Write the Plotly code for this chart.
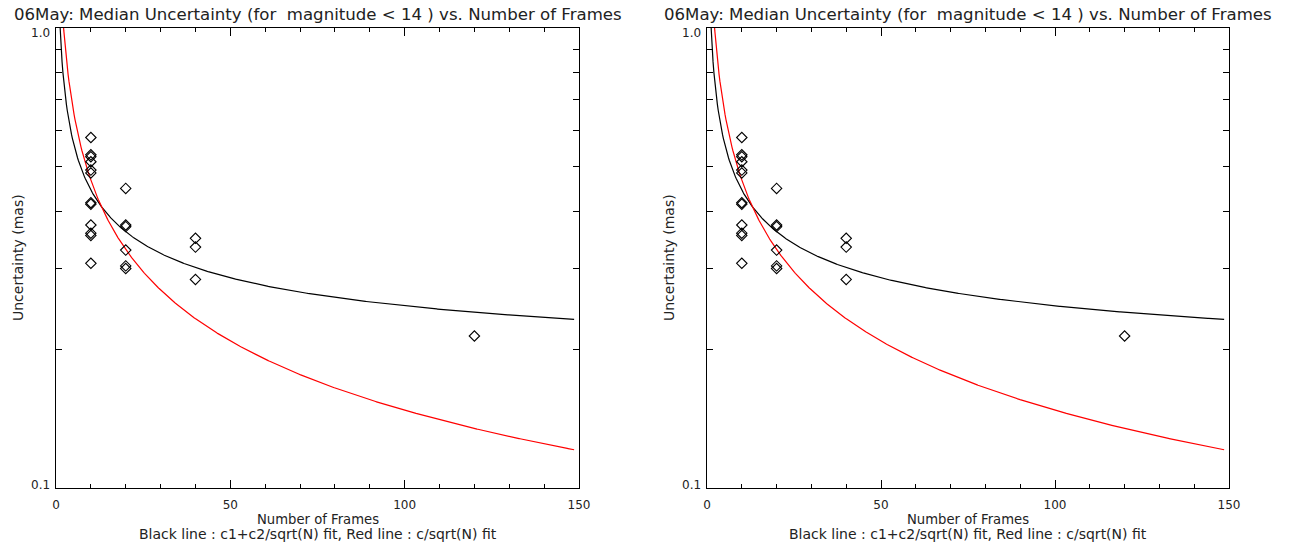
import numpy as np
import plotly.graph_objects as go

# Median uncertainty per field versus number of frames
frames = [10, 10, 10, 10, 10, 10, 10, 10, 10, 10, 10, 10,
          20, 20, 20, 20, 20, 20,
          40, 40, 40,
          120]
uncertainty = [0.578, 0.530, 0.525, 0.512, 0.491, 0.484, 0.417, 0.414, 0.373, 0.358, 0.354, 0.308,
               0.448, 0.373, 0.370, 0.329, 0.304, 0.300,
               0.349, 0.334, 0.284,
               0.214]

# Fit coefficients
c1, c2 = 0.1585, 0.904      # black: c1 + c2/sqrt(N)
c_red = 1.476               # red:   c/sqrt(N)
n_fit = np.linspace(1.0, 148.6, 600)
black_fit = c1 + c2 / np.sqrt(n_fit)
red_fit = c_red / np.sqrt(n_fit)

title_text = "06May: Median Uncertainty (for  magnitude < 14 ) vs. Number of Frames"
xtitle = "Number of Frames"
xsub = "Black line : c1+c2/sqrt(N) fit, Red line : c/sqrt(N) fit"
ytitle = "Uncertainty (mas)"
x_tickvals = [0, 50, 100, 150]
y_tickvals = [0.1, 1.0]
y_ticktext = ["0.1", "1.0"]
y_label_shift = [3, -5]     # IDL-style label placement relative to the tick
y_minor = [0.2, 0.3, 0.4, 0.5, 0.6, 0.7, 0.8, 0.9]

W, H = 1292, 547
FONT = "DejaVu Sans"
TXT = "#222222"
panels = [(56, 579), (707, 1229)]
top_px, bot_px = 28, 488

fig = go.Figure()
annotations = []
for i, (x0, x1) in enumerate(panels):
    xa = "x" if i == 0 else "x2"
    ya = "y" if i == 0 else "y2"
    fig.add_trace(go.Scatter(x=n_fit, y=black_fit, mode="lines",
                             line=dict(color="black", width=1.2),
                             xaxis=xa, yaxis=ya, showlegend=False))
    fig.add_trace(go.Scatter(x=n_fit, y=red_fit, mode="lines",
                             line=dict(color="#ff0000", width=1.2),
                             xaxis=xa, yaxis=ya, showlegend=False))
    fig.add_trace(go.Scatter(x=frames, y=uncertainty, mode="markers",
                             marker=dict(symbol="diamond-open", size=8, color="black",
                                         line=dict(width=1.1, color="black")),
                             xaxis=xa, yaxis=ya, showlegend=False, cliponaxis=False))
    sfx = "" if i == 0 else "2"
    axis_common = dict(showline=True, linecolor="black", linewidth=1.3, mirror="ticks",
                       ticks="inside", tickcolor="black", showgrid=False, zeroline=False,
                       automargin=False,
                       tickfont=dict(family=FONT, size=12, color=TXT))
    fig.update_layout(**{
        "xaxis" + sfx: dict(domain=[x0 / W, x1 / W], range=[0, 150],
                            tickvals=x_tickvals, ticklen=8, tickwidth=1.1,
                            ticklabelstandoff=5,
                            minor=dict(dtick=10, tick0=0, ticklen=4, ticks="inside",
                                       tickcolor="black", tickwidth=1, showgrid=False),
                            anchor=ya, **axis_common),
        "yaxis" + sfx: dict(domain=[1 - bot_px / H, 1 - top_px / H], type="log",
                            range=[-1, 0], tickvals=y_tickvals, showticklabels=False,
                            ticklen=8, tickwidth=1.1,
                            minor=dict(tickvals=y_minor, ticklen=6, ticks="inside",
                                       tickcolor="black", tickwidth=1, showgrid=False),
                            anchor=xa, **axis_common),
    })
    # y tick labels, set just off the ticks as in IDL output
    for val, txt, shift in zip(y_tickvals, y_ticktext, y_label_shift):
        annotations.append(dict(text=txt, x=0, xref=xa + " domain", y=np.log10(val), yref=ya,
                                xanchor="right", yanchor="middle", xshift=-4, yshift=shift,
                                showarrow=False, font=dict(family=FONT, size=12, color=TXT)))
    cx = (x0 + x1) / 2 / W
    annotations += [
        dict(text=title_text, x=cx, y=1 - 15 / H, xref="paper", yref="paper",
             showarrow=False, font=dict(family=FONT, size=16.6, color=TXT),
             xanchor="center", yanchor="middle"),
        dict(text=xtitle, x=cx, y=1 - 519 / H, xref="paper", yref="paper",
             showarrow=False, font=dict(family=FONT, size=13.2, color=TXT),
             xanchor="center", yanchor="middle"),
        dict(text=xsub, x=cx, y=1 - 534 / H, xref="paper", yref="paper",
             showarrow=False, font=dict(family=FONT, size=14, color=TXT),
             xanchor="center", yanchor="middle"),
        dict(text=ytitle, x=(x0 - 38) / W, y=1 - (top_px + bot_px) / 2 / H,
             xref="paper", yref="paper", textangle=-90, showarrow=False,
             font=dict(family=FONT, size=14, color=TXT),
             xanchor="center", yanchor="middle"),
    ]

fig.update_layout(width=W, height=H,
                  margin=dict(l=0, r=0, t=0, b=0, autoexpand=False),
                  paper_bgcolor="white", plot_bgcolor="white",
                  annotations=annotations)
fig.write_html("out.html")
